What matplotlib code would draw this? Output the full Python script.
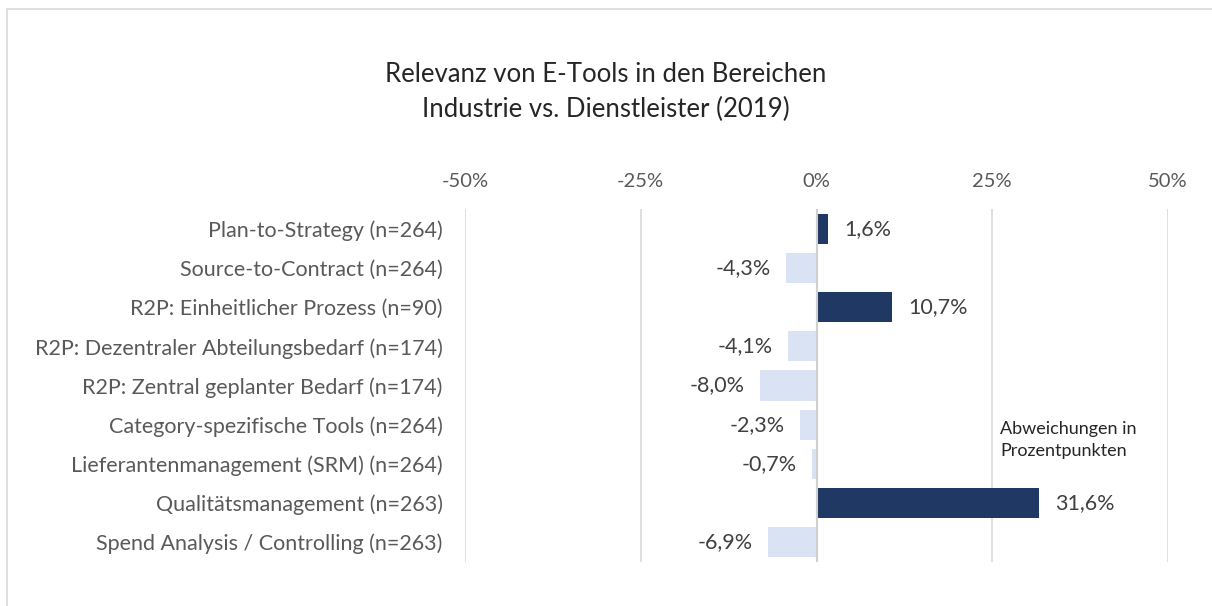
import matplotlib.pyplot as plt
from matplotlib.patches import Rectangle

plt.rcParams['font.family'] = ['Lato', 'DejaVu Sans']

categories = [
    "Plan-to-Strategy (n=264)",
    "Source-to-Contract (n=264)",
    "R2P: Einheitlicher Prozess (n=90)",
    "R2P: Dezentraler Abteilungsbedarf (n=174)",
    "R2P: Zentral geplanter Bedarf (n=174)",
    "Category-spezifische Tools (n=264)",
    "Lieferantenmanagement (SRM) (n=264)",
    "Qualitätsmanagement (n=263)",
    "Spend Analysis / Controlling (n=263)",
]
values = [1.6, -4.3, 10.7, -4.1, -8.0, -2.3, -0.7, 31.6, -6.9]
xticks = [-50, -25, 0, 25, 50]

dark = "#203864"
light = "#dae3f3"
txt = "#595959"

fig = plt.figure(figsize=(12.12, 6.06), dpi=100)
# chart border
fig.patches.append(Rectangle((7 / 1212, -0.1), 1.2, 1 - 9 / 606 + 0.1, transform=fig.transFigure,
                             fill=False, edgecolor="#d9d9d9", linewidth=1.2))

ax = fig.add_axes([465 / 1212, 1 - 561.6 / 606, (1168 - 465) / 1212, 352.2 / 606])
ypos = list(range(len(categories)))
cols = [dark if v > 0 else light for v in values]
ax.barh(ypos, values, height=0.77, color=cols, zorder=3)
ax.set_ylim(len(categories) - 0.5, -0.5)
ax.set_xlim(-50, 50)
ax.set_yticks(ypos)
ax.set_yticklabels(categories, fontsize=15.5, color=txt)
ax.set_xticks(xticks)
ax.set_xticklabels([f"{t}%" for t in xticks], fontsize=14.5, color=txt)
ax.xaxis.tick_top()
ax.tick_params(axis="both", length=0)
ax.tick_params(axis="x", pad=14)
ax.tick_params(axis="y", pad=16)
for s in ax.spines.values():
    s.set_visible(False)
ax.grid(axis="x", color="#d9d9d9", linewidth=1.2, zorder=0)
ax.axvline(0, color="#d0d0d0", linewidth=1.5, zorder=4)

for y, v in zip(ypos, values):
    lab = f"{v:.1f}%".replace(".", ",")
    if v > 0:
        ax.annotate(lab, (v, y), xytext=(12, 0), textcoords="offset points",
                    ha="left", va="center", fontsize=15.5, color="#404040")
    else:
        ax.annotate(lab, (v, y), xytext=(-11, 0), textcoords="offset points",
                    ha="right", va="center", fontsize=15.5, color="#404040")

fig.text(1000 / 1212, 1 - 440 / 606, "Abweichungen in\nProzentpunkten", fontsize=13,
         color="#262626", ha="left", va="center", linespacing=1.4)

fig.text(0.5, 1 - 92 / 606, "Relevanz von E-Tools in den Bereichen\nIndustrie vs. Dienstleister (2019)",
         fontsize=18.5, color="#262626", ha="center", va="center", linespacing=1.45)

fig.savefig("out.png", dpi=100)
